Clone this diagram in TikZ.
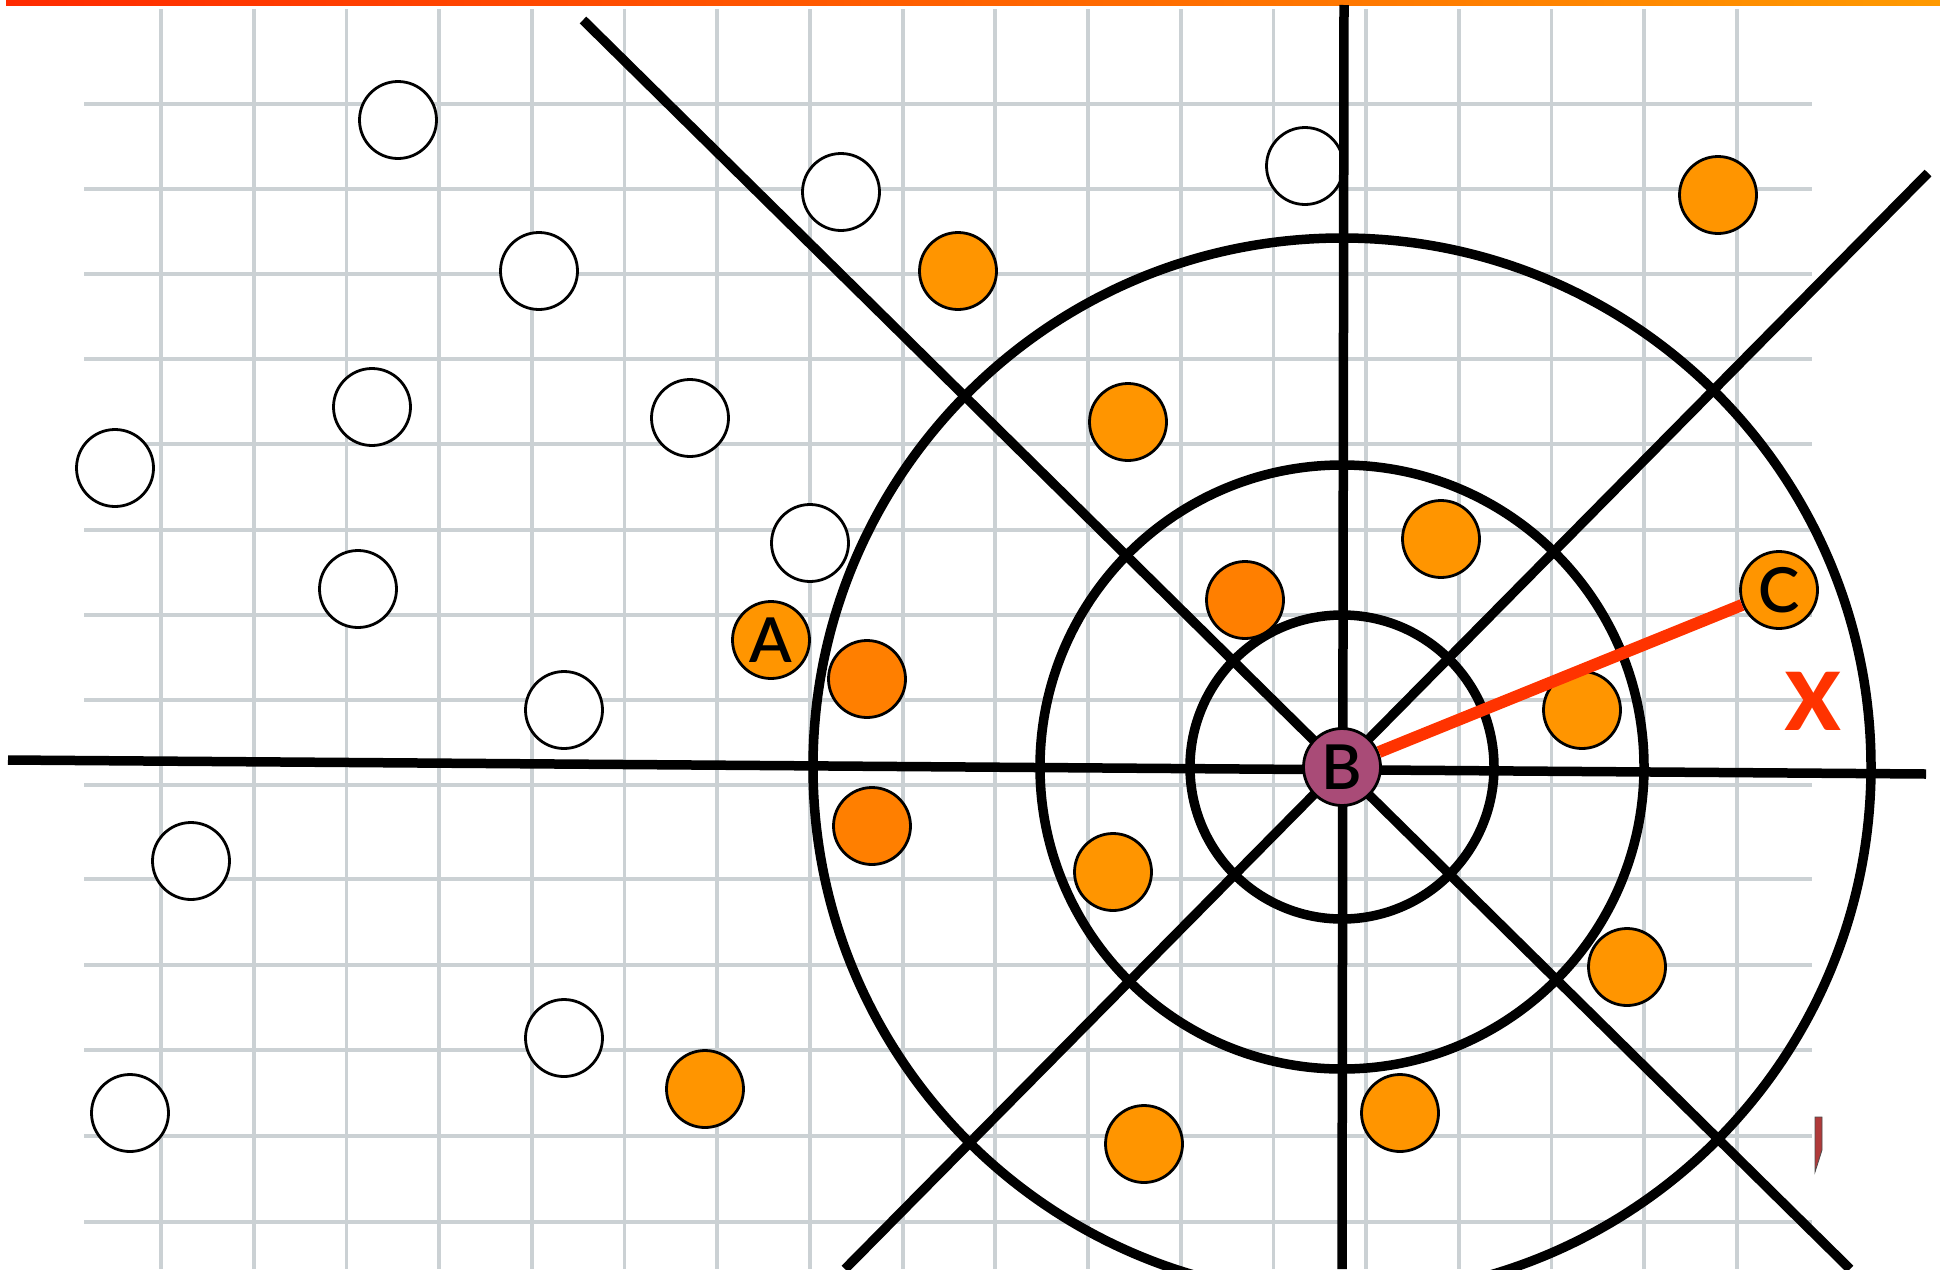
\documentclass[tikz,border=0pt]{standalone}
\usepackage{fontspec}
\setmainfont{Lato}
\IfFontExistsTF{Lato Black}{\newfontfamily\heavyfont{Lato Black}}{\newfontfamily\heavyfont{Lato}[FakeBold=3]}
\IfFontExistsTF{Lato Semibold}{\newfontfamily\midfont{Lato Semibold}}{\newfontfamily\midfont{Lato}[FakeBold=1]}
\usepackage{xcolor}
\definecolor{gridln}{HTML}{CBD1D4}
\definecolor{dot}{HTML}{FF9500}
\definecolor{dotdk}{HTML}{FF7F00}
\definecolor{centre}{HTML}{A94B77}
\definecolor{hot}{HTML}{FF3300}
\definecolor{barleft}{HTML}{FF2A00}
\definecolor{barright}{HTML}{FF9A00}
\definecolor{sliver}{HTML}{B03A3A}
\tikzset{
  pt/.style={circle, draw=black, line width=2.8pt, minimum size=77pt, inner sep=0pt,
             font=\midfont\fontsize{62}{62}\selectfont},
  emptypt/.style={pt, fill=white},
  orangept/.style={pt, fill=dot},
  darkpt/.style={pt, fill=dotdk},
  centrept/.style={pt, fill=centre},
  axis/.style={line width=9.5pt, draw=black},
  ring/.style={line width=9.5pt, draw=black},
  gridline/.style={line width=3.8pt, draw=gridln},
  link/.style={line width=12pt, draw=hot}
}

\begin{document}
\begin{tikzpicture}[x=1pt,y=-1pt]
  \useasboundingbox (0,0) rectangle (1940,1269);
  \shade[left color=barleft, right color=barright] (6,0) rectangle (1940,5);

  \foreach \y in {104,189,274,359,444,530,615,700,785,879,965,1050,1136,1222} {
    \draw[gridline] (84,\y) -- (1812,\y);
  }
  \foreach \k in {0,...,17} {
    \draw[gridline] ({161+92.7*\k},9) -- ({161+92.7*\k},1269);
  }

  \foreach \x/\y/\n in {398/120/w1, 539/271/w2, 841/192/w3, 372/407/w4, 690/418/w5,
                        115/468/w6, 810/543/w7, 358/589/w8, 564/710/w9, 191/861/w10,
                        564/1038/w11, 130/1113/w12, 1305/166/w13} {
    \node[emptypt] (\n) at (\x,\y) {};
  }

  \coordinate (o) at (1342,767);
  \draw[axis] (8,760) -- (1926,774);
  \draw[axis] (1344,5) -- (1342,1269);
  \draw[axis] (583,20) -- (1850,1269);
  \draw[axis] (1928,173) -- (845,1269);
  \draw[ring] (o) circle[radius=152];
  \draw[ring] (o) circle[radius=302];
  \draw[ring] (o) circle[radius=529];

  \foreach \x/\y/\n in {958/271/o1, 1128/422/o2, 1441/539/o3, 1718/195/o4, 1582/710/o5,
                        1113/872/o6, 1627/967/o7, 705/1089/o8, 1144/1144/o9, 1400/1113/o10} {
    \node[orangept] (\n) at (\x,\y) {};
  }
  \foreach \x/\y/\n in {867/679/d1, 872/826/d2, 1245/600/d3} {
    \node[darkpt] (\n) at (\x,\y) {};
  }

  \node[orangept] (a) at (771,640) {A};
  \node[centrept] (b) at (o) {B};
  \node[orangept] (c) at (1779,590) {C};
  \draw[link] (b) -- (c);

  \node[font=\heavyfont\fontsize{80}{80}\selectfont, text=hot] (xlbl) at (1813,701) {X};

  \filldraw[fill=sliver, draw=black!70, line width=0.8pt]
    (1815,1117) -- (1822,1117) -- (1822,1150) -- (1815,1172) -- cycle;
\end{tikzpicture}
\end{document}
